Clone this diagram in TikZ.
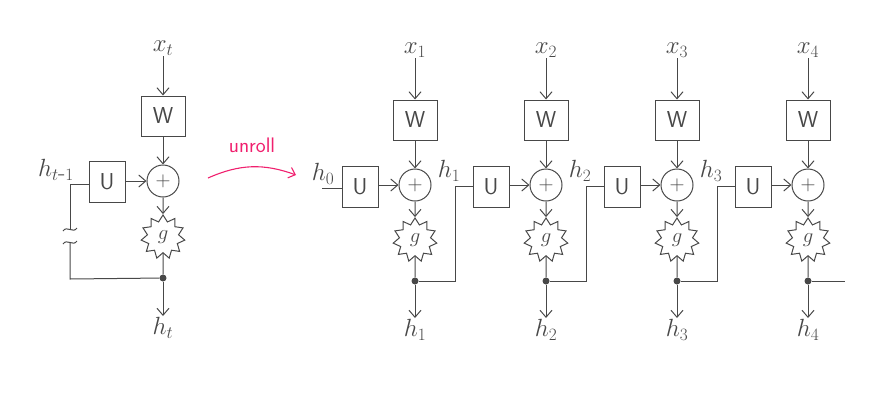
\documentclass[tikz,border=0pt]{standalone}
\usepackage{fontspec}
\usetikzlibrary{arrows.meta,shapes.geometric,calc}
\definecolor{ink}{HTML}{484848}
\definecolor{pinkink}{HTML}{F0206E}
\begin{document}
\begin{tikzpicture}[x=1pt,y=-1pt,
  every node/.style={text=ink},
  line/.style={draw=ink,line width=1pt},
  arr/.style={line,-{Straight Barb[length=7pt,width=12pt,line width=1pt]}},
  wbox/.style={line,rectangle,minimum width=44pt,minimum height=40pt,inner sep=0pt,font=\fontsize{23}{25}\selectfont\sffamily},
  ubox/.style={line,rectangle,minimum width=36pt,minimum height=41pt,inner sep=0pt,font=\fontsize{23}{25}\selectfont\sffamily},
  plus/.style={line,circle,minimum size=32pt,inner sep=0pt,font=\fontsize{22}{24}\selectfont},
  gstar/.style={line,star,star points=11,star point ratio=1.4,minimum size=44pt,inner sep=0pt,font=\fontsize{21}{23}\selectfont},
  lbl/.style={font=\fontsize{24}{26}\selectfont,inner sep=1pt},
  dotn/.style={circle,fill=ink,minimum size=7pt,inner sep=0pt}]
\useasboundingbox (0,0) rectangle (886,400);

% ---------- folded cell ----------
\node[lbl] (xt) at (163,48) {$x_t$};
\node[wbox] (W0) at (163,116) {W};
\node[plus] (P0) at (163,181) {$+$};
\node[ubox] (U0) at (107,182) {U};
\node[gstar] (G0) at (163,237) {$g$};
\node[dotn] (D0) at (163,278) {};
\node[lbl,anchor=north] (ht) at (163,316) {$h_t$};
\node[lbl] (htm) at (56,170) {$h_{t\mbox{-}1}$};
\coordinate (F1) at (70,279);
\coordinate (F2) at (70,242);
\coordinate (F3) at (70,229);
\coordinate (F4) at (70,184);
\draw[arr] (xt) -- (W0);
\draw[arr] (W0) -- (P0);
\draw[arr] (U0.east |- P0) -- (P0);
\draw[arr] (P0) -- (G0);
\draw[line] (G0) -- (D0);
\draw[arr] (D0) -- (ht);
\draw[line] (D0) -- (F1) -- (F2);
\draw[line] (F3) -- (F4) -- (U0.west |- F4);
\draw[line] ($(F2)+(-7,2)$) .. controls ($(F2)+(-3,-4)$) and ($(F2)+(3,5)$) .. ($(F2)+(7,-1)$);
\draw[line] ($(F3)+(-7,2)$) .. controls ($(F3)+(-3,-4)$) and ($(F3)+(3,5)$) .. ($(F3)+(7,-1)$);

% ---------- unroll ----------
\node[font=\fontsize{21}{23}\selectfont\sffamily,text=pinkink] (unroll) at (252,145) {unroll};
\coordinate (R1) at (208,178);
\coordinate (R2) at (296,175);
\draw[draw=pinkink,line width=1.1pt,-{Straight Barb[length=6pt,width=11pt,line width=1.1pt]}] (R1) to[bend left=22] (R2);

% ---------- unrolled cells ----------
\foreach \i/\X in {1/415,2/546,3/677,4/808}{
  \node[lbl] (x\i) at (\X,50) {$x_{\i}$};
  \node[wbox] (W\i) at (\X,120) {W};
  \node[plus] (P\i) at (\X,185) {$+$};
  \node[ubox] (U\i) at (\X-55,187) {U};
  \node[gstar] (G\i) at (\X,240) {$g$};
  \node[dotn] (D\i) at (\X,281) {};
  \node[lbl,anchor=north] (h\i) at (\X,318) {$h_{\i}$};
  \draw[arr] (x\i) -- (W\i);
  \draw[arr] (W\i) -- (P\i);
  \draw[arr] (U\i.east |- P\i) -- (P\i);
  \draw[arr] (P\i) -- (G\i);
  \draw[line] (G\i) -- (D\i);
  \draw[arr] (D\i) -- (h\i);
}
\node[lbl] (h0) at (323,174) {$h_0$};
\coordinate (S0) at (322,188);
\draw[line] (S0) -- (U1.west |- S0);
\foreach \i/\j/\X in {1/2/415,2/3/546,3/4/677}{
  \coordinate (V\i) at (\X+40,186);
  \node[lbl] (hh\i) at (\X+34,171) {$h_{\i}$};
  \draw[line] (D\i) -- (D\i -| V\i) -- (V\i) -- (U\j.west |- V\i);
}
\coordinate (E4) at (845,281);
\draw[line] (D4) -- (E4);
\end{tikzpicture}
\end{document}
